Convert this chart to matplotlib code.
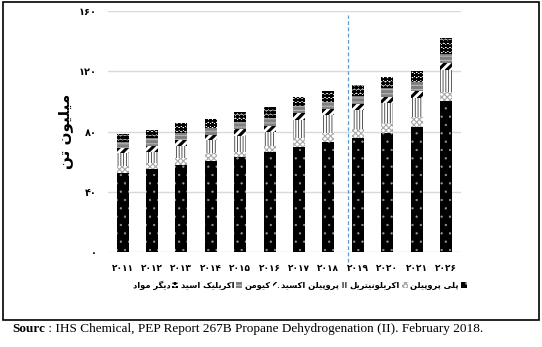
import numpy as np
import matplotlib
matplotlib.use("Agg")
import matplotlib.pyplot as plt
from matplotlib.patches import Rectangle, Patch

plt.rcParams["font.family"] = ["DejaVu Sans"]

# ---------------------------------------------------------------
# data (million tonnes)
years = ["۲۰۱۱", "۲۰۱۲", "۲۰۱۳", "۲۰۱۴", "۲۰۱۵", "۲۰۱۶",
         "۲۰۱۷", "۲۰۱۸", "۲۰۱۹", "۲۰۲۰", "۲۰۲۱", "۲۰۲۶"]
polypropylene   = [52.3, 54.9, 57.8, 60.6, 62.9, 66.2, 69.9, 72.8, 75.9, 78.8, 82.8, 100.3]
acrylonitrile   = [5.0, 4.0, 4.8, 4.9, 3.7, 4.4, 5.6, 6.0, 5.6, 6.6, 6.6, 6.2]
propylene_oxide = [8.2, 7.7, 7.8, 8.9, 10.4, 9.3, 12.1, 12.2, 12.8, 13.3, 12.6, 14.4]
cumene          = [3.3, 3.8, 4.0, 3.3, 4.5, 3.8, 4.5, 3.7, 4.0, 4.4, 5.1, 4.4]
acrylic_acid    = [4.5, 5.1, 4.4, 4.4, 5.0, 5.1, 4.8, 5.1, 5.3, 5.6, 6.0, 6.2]
other           = [5.1, 5.5, 6.6, 6.2, 6.7, 7.3, 6.2, 7.3, 7.3, 7.7, 7.3, 10.4]

y_ticks = [0, 40, 80, 120, 160]
y_tick_labels = ["۰", "۴۰", "۸۰", "۱۲۰", "۱۶۰"]

ylabel_fa = "میلیون تن"
names_fa = ["پلی پروپیلن", "اکریلونیتریل", "پروپیلن اکسید",
            "کیومن", "اکریلیک اسید", "دیگر مواد"]
source_head = "Sourc"
source_body = " : IHS Chemical, PEP Report 267B Propane Dehydrogenation (II). February 2018."

# ---------------------------------------------------------------
# minimal Persian shaping: contextual presentation forms + RTL order
FORMS = {  # isolated, final, initial, medial
    "ا": ("\uFE8D", "\uFE8E", None, None),
    "د": ("\uFEA9", "\uFEAA", None, None),
    "ر": ("\uFEAD", "\uFEAE", None, None),
    "و": ("\uFEED", "\uFEEE", None, None),
    "م": ("\uFEE1", "\uFEE2", "\uFEE3", "\uFEE4"),
    "ل": ("\uFEDD", "\uFEDE", "\uFEDF", "\uFEE0"),
    "ن": ("\uFEE5", "\uFEE6", "\uFEE7", "\uFEE8"),
    "ت": ("\uFE95", "\uFE96", "\uFE97", "\uFE98"),
    "س": ("\uFEB1", "\uFEB2", "\uFEB3", "\uFEB4"),
    "پ": ("\uFB56", "\uFB57", "\uFB58", "\uFB59"),
    "ک": ("\uFB8E", "\uFB8F", "\uFB90", "\uFB91"),
    "گ": ("\uFB92", "\uFB93", "\uFB94", "\uFB95"),
    "ی": ("\uFBFC", "\uFBFD", "\uFBFE", "\uFBFF"),
}


def shape(text):
    out = []
    for i, ch in enumerate(text):
        if ch not in FORMS:
            out.append(ch)
            continue
        prev = text[i - 1] if i > 0 else ""
        nxt = text[i + 1] if i + 1 < len(text) else ""
        joins_prev = prev in FORMS and FORMS[prev][2] is not None
        joins_next = nxt in FORMS and FORMS[ch][2] is not None
        iso, fin, ini, med = FORMS[ch]
        if joins_prev and joins_next:
            out.append(med)
        elif joins_prev:
            out.append(fin)
        elif joins_next:
            out.append(ini)
        else:
            out.append(iso)
    return "".join(reversed(out))


# ---------------------------------------------------------------
series = [polypropylene, acrylonitrile, propylene_oxide, cumene, acrylic_acid, other]
styles = [
    dict(facecolor="black", edgecolor="#9a9a9a", hatch=".."),
    dict(facecolor="white", edgecolor="#a8a8a8", hatch="xxxxxx"),
    dict(facecolor="white", edgecolor="#3a3a3a", hatch="||||||"),
    dict(facecolor="white", edgecolor="black", hatch="////"),
    dict(facecolor="#7f7f7f", edgecolor="#b5b5b5", hatch="----"),
    dict(facecolor="white", edgecolor="black", hatch="oooo"),
]
hatch_widths = [0.4, 0.8, 0.6, 2.2, 0.8, 1.6]

fig = plt.figure(figsize=(5.42, 3.47), dpi=100)
ax = fig.add_axes([0.199, 0.274, 0.651, 0.694])

x = np.arange(len(years))
bottom = np.zeros(len(years))
for vals, st, hw in zip(series, styles, hatch_widths):
    with plt.rc_context({"hatch.linewidth": hw}):
        bars = ax.bar(x, vals, 0.41, bottom=bottom, linewidth=0, **st)
    for b in bars:
        if hasattr(b, "set_hatch_linewidth"):
            b.set_hatch_linewidth(hw)
    bottom += np.array(vals)

ax.set_xlim(-0.5, len(years) - 0.5)
ax.set_ylim(0, 160)
ax.set_yticks(y_ticks)
ax.set_yticklabels(y_tick_labels, fontsize=7, fontweight="bold")
ax.set_xticks(x)
ax.set_xticklabels(years, fontsize=6.5, fontweight="bold")
ax.tick_params(axis="x", length=0, pad=9)
ax.tick_params(axis="y", length=0, pad=8)
ax.yaxis.grid(True, color="#d9d9d9", linewidth=1)
ax.set_axisbelow(True)
for s in ax.spines.values():
    s.set_visible(False)

ax.set_ylabel(shape(ylabel_fa), fontsize=11, fontweight="bold", labelpad=4)

# forecast separator
ax.axvline(7.67, ymin=-0.04, ymax=0.985, color="#5b9bd5", linestyle=(0, (3, 2)),
           linewidth=0.9, clip_on=False)

handles = []
for st, hw in zip(styles, hatch_widths):
    with plt.rc_context({"hatch.linewidth": hw}):
        p = Patch(linewidth=0, **st)
    handles.append(p)
labels = [shape(n) for n in names_fa]
fig.legend(handles[::-1], labels[::-1], loc="center", bbox_to_anchor=(0.553, 0.178),
           ncol=6, frameon=False, markerfirst=False,
           handlelength=0.7, handleheight=0.7, handletextpad=0.25, columnspacing=0.3,
           prop=dict(size=6, weight="bold"))

# outer frame and source line
fig.add_artist(Rectangle((0.006, 0.078), 0.988, 0.916, transform=fig.transFigure,
                         fill=False, edgecolor="black", linewidth=1.2))
src_y = 0.043
head = fig.text(0.022, src_y, source_head, fontsize=9.5, fontweight="bold",
                family="Liberation Serif", va="baseline")
fig.canvas.draw()
hb = head.get_window_extent()
fig.text(hb.x1 / fig.bbox.width, src_y, source_body, fontsize=9.5,
         family="Liberation Serif", va="baseline")

fig.savefig("out.png", dpi=100)
